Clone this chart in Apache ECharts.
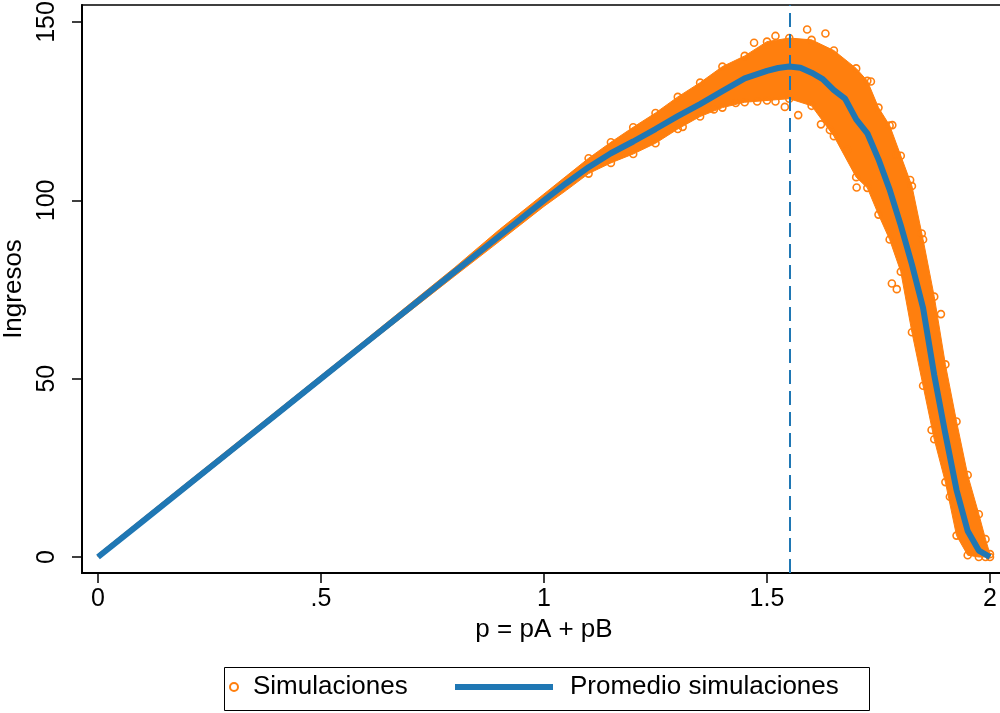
<!DOCTYPE html>
<html>
<head>
<meta charset="utf-8">
<script src="https://cdn.jsdelivr.net/npm/echarts@6/dist/echarts.min.js"></script>
<style>
  html, body { margin: 0; padding: 0; background: #fff; }
  #main { width: 1000px; height: 713px; }
</style>
</head>
<body>
<div id="main"></div>
<script>
// promedio de las simulaciones (linea azul)
var meanX = [0, 0.1, 0.2, 0.3, 0.4, 0.5, 0.6, 0.7, 0.8, 0.9, 1.0, 1.05, 1.1, 1.15, 1.2, 1.25, 1.3, 1.35, 1.4, 1.45,
  1.5, 1.525, 1.55, 1.575, 1.6, 1.625, 1.65, 1.675, 1.7, 1.725, 1.75, 1.775, 1.8, 1.825, 1.85, 1.875, 1.9, 1.925, 1.95, 1.975, 2.0];
var meanY = [0, 10, 20, 30, 40, 50, 60, 70, 80, 90, 100, 104.8, 109.3, 113.2, 116.5, 120, 123.6, 127, 130.6, 134.2,
  136.3, 137.1, 137.5, 137.2, 135.8, 134, 130.9, 128.5, 122.7, 118.8, 111.5, 103, 93, 82, 69.8, 51, 34.5, 18.8, 7.3, 1.8, 0];

// nube de simulaciones: borde superior e inferior
var bandX  = [0, 0.2, 0.4, 0.6, 0.8, 0.9, 1.0, 1.05, 1.1, 1.15, 1.2, 1.25, 1.3, 1.35, 1.4, 1.45, 1.5, 1.55, 1.6, 1.65,
  1.7, 1.725, 1.75, 1.775, 1.8, 1.825, 1.85, 1.875, 1.9, 1.925, 1.95, 1.975, 1.99, 2.0];
var bandHi = [0.8, 20.9, 40.9, 60.9, 81.2, 91.8, 101.8, 106.8, 111.8, 116.3, 120.5, 124.5, 129, 133, 137.5, 140.5, 144.5, 145.5, 145, 142,
  137, 133.5, 126, 121, 112.5, 104, 89, 73, 54, 38, 23, 12, 5, 0.8];
var bandLo = [0, 19.2, 39.2, 59.2, 78.8, 88.5, 98.3, 102.8, 107.5, 110.5, 113, 116, 120, 123.5, 126, 127.5, 128, 128.5, 126.5, 118,
  106.5, 103.5, 96, 89, 80, 63, 48, 33, 21, 6, 0.5, 0, 0, 0];

// simulaciones sueltas fuera de la nube
var simX = [1.250, 1.250, 1.311, 1.381, 1.430, 1.471, 1.478, 1.519, 1.519, 1.540, 1.570, 1.590, 1.621, 1.631,
  1.641, 1.680, 1.701, 1.733, 1.780, 1.781, 1.791, 1.791, 1.821, 1.847, 1.869, 1.890, 1.910];
var simY = [117.9, 117.4, 120.6, 125.5, 127.3, 144.2, 127.7, 146.1, 127.7, 126.2, 123.9, 147.9, 121.3, 146.8,
  119.7, 114.1, 103.6, 133.3, 76.7, 121.1, 112.7, 75.1, 105.7, 90.7, 35.6, 68.1, 16.9];

var vline = 1.55;

var xTicks = [0, 0.5, 1, 1.5, 2];
var xTickLabels = ['0', '.5', '1', '1.5', '2'];
var yTicks = [0, 50, 100, 150];

var ORANGE = '#ff7f0e';
var BLUE = '#1f77b4';
var FONT = 'Liberation Sans, Arial, Helvetica, sans-serif';

var chart = echarts.init(document.getElementById('main'));

// puntos: sueltos + bordes de la nube (solo donde la nube se ensancha)
var simPoints = [];
simX.forEach(function (x, i) { simPoints.push([x, simY[i]]); });
bandX.forEach(function (x, i) {
  if (x < 1.1) return;
  simPoints.push([x, bandHi[i]]);
  simPoints.push([x, bandLo[i]]);
});

// poligono de la nube: borde superior y luego el inferior al reves
function renderBand(params, api) {
  var pts = [];
  for (var i = 0; i < bandX.length; i++) pts.push(api.coord([bandX[i], bandHi[i]]));
  for (var j = bandX.length - 1; j >= 0; j--) pts.push(api.coord([bandX[j], bandLo[j]]));
  return {
    type: 'polygon',
    shape: { points: pts },
    style: { fill: ORANGE, stroke: ORANGE, lineWidth: 1 }
  };
}

var option = {
  animation: false,
  backgroundColor: '#fff',
  textStyle: { fontFamily: FONT, color: '#000' },
  grid: {
    left: 82, top: 5, width: 924, height: 568,
    show: true, borderColor: '#000', borderWidth: 1.5,
    outerBoundsMode: 'none'
  },
  xAxis: {
    type: 'value', min: -0.0359, max: 2.0359,
    name: 'p = pA + pB', nameLocation: 'middle', nameGap: 43,
    nameTextStyle: { fontSize: 26, fontFamily: FONT, color: '#000' },
    axisLine: { show: true, onZero: false, lineStyle: { color: '#000', width: 2 } },
    axisTick: { show: true, length: 10, customValues: xTicks, lineStyle: { color: '#000', width: 1.5 } },
    axisLabel: {
      customValues: xTicks, margin: 14, fontSize: 25, fontFamily: FONT, color: '#000',
      formatter: function (v) { return xTickLabels[xTicks.indexOf(v)]; }
    },
    splitLine: { show: false }
  },
  yAxis: {
    type: 'value', min: -4.486, max: 154.77,
    name: 'Ingresos', nameLocation: 'middle', nameGap: 49, nameRotate: 90,
    nameTextStyle: { fontSize: 26, fontFamily: FONT, color: '#000' },
    axisLine: { show: true, onZero: false, lineStyle: { color: '#000', width: 2 } },
    axisTick: { show: true, length: 10, customValues: yTicks, lineStyle: { color: '#000', width: 1.5 } },
    axisLabel: { customValues: yTicks, rotate: 90, margin: 22, fontSize: 25, fontFamily: FONT, color: '#000' },
    splitLine: { show: false }
  },
  legend: [
    {
      left: 229, top: 674, padding: 0, itemWidth: 8, itemHeight: 8,
      data: [{ name: 'Simulaciones', icon: 'circle',
        itemStyle: { color: '#fff', borderColor: ORANGE, borderWidth: 2 } }],
      textStyle: { fontSize: 26, fontFamily: FONT, color: '#000', padding: [0, 0, 0, 10] }
    },
    {
      left: 455, top: 674, padding: 0, itemWidth: 98, itemHeight: 6,
      data: [{ name: 'Promedio simulaciones', icon: 'rect' }],
      textStyle: { fontSize: 26, fontFamily: FONT, color: '#000', padding: [0, 0, 0, 12] }
    }
  ],
  graphic: [{
    type: 'rect', left: 222, top: 665, silent: true,
    shape: { width: 645, height: 43 },
    style: { fill: 'none', stroke: '#000', lineWidth: 1 }
  }],
  series: [
    {
      name: 'xline', type: 'line', z: 1, data: [], silent: true,
      markLine: {
        silent: true, symbol: 'none', label: { show: false },
        lineStyle: { color: BLUE, width: 2, type: [14, 7] },
        data: [{ xAxis: vline }]
      }
    },
    {
      name: 'nube', type: 'custom', z: 2, silent: true, clip: true,
      data: [[0, 0]],
      renderItem: renderBand
    },
    {
      name: 'Simulaciones', type: 'scatter', z: 3,
      data: simPoints, symbol: 'circle', symbolSize: 7,
      itemStyle: { color: 'rgba(255,255,255,0)', borderColor: ORANGE, borderWidth: 1.6, opacity: 1 }
    },
    {
      name: 'Promedio simulaciones', type: 'line', z: 4,
      data: meanX.map(function (x, i) { return [x, meanY[i]]; }),
      showSymbol: false, symbol: 'none',
      itemStyle: { color: BLUE },
      lineStyle: { color: BLUE, width: 6 }
    }
  ]
};

chart.setOption(option);
</script>
</body>
</html>
